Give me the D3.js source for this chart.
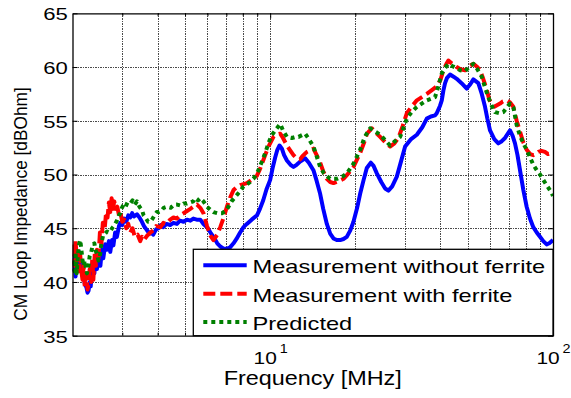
<!DOCTYPE html>
<html>
<head>
<meta charset="utf-8">
<script src="https://cdn.jsdelivr.net/npm/d3@7"></script>
<style>
  html, body { margin: 0; padding: 0; background: #fff; }
  svg { display: block; font-family: "Liberation Sans", Arial, Helvetica, sans-serif; }
</style>
</head>
<body>
<svg id="chart" width="571" height="398"></svg>
<script>
// CM loop impedance vs frequency: [frequency in MHz, impedance in dBOhm]
const withoutFerrite = [
  [2.01,41.0],[2.03,42.5],[2.05,40.5],[2.07,42.0],[2.09,41.0],[2.11,42.8],[2.13,41.2],[2.15,42.0],
  [2.17,40.6],[2.19,40.9],[2.21,39.8],[2.24,39.5],[2.26,39.0],[2.28,39.2],[2.30,40.0],[2.32,39.6],
  [2.34,40.8],[2.37,41.5],[2.39,40.8],[2.41,42.0],[2.44,41.2],[2.47,42.6],[2.51,41.5],[2.54,43.0],
  [2.57,42.2],[2.61,43.5],[2.65,43.0],[2.69,43.8],[2.72,42.8],[2.76,43.9],[2.79,43.4],[2.83,44.6],
  [2.87,44.2],[2.92,45.2],[2.95,45.5],[3.00,45.3],[3.05,45.9],[3.10,45.6],[3.15,46.2],[3.20,46.0],
  [3.25,46.4],[3.30,46.1],[3.38,46.3],[3.45,46.0],[3.52,45.6],[3.58,45.2],[3.67,44.8],[3.75,44.5],
  [3.82,44.6],[3.86,44.4],[3.95,44.9],[4.03,45.0],[4.10,45.3],[4.19,45.1],[4.30,45.4],[4.43,45.3],
  [4.55,45.5],[4.68,45.4],[4.80,45.7],[4.94,45.6],[5.08,45.8],[5.22,45.7],[5.35,45.9],[5.50,45.8],
  [5.66,45.8],[5.81,45.4],[5.98,45.1],[6.15,44.6],[6.30,44.2],[6.50,43.6],[6.66,43.3],[6.85,43.1],
  [7.03,43.1],[7.20,43.2],[7.42,43.6],[7.60,44.0],[7.83,44.6],[8.05,45.1],[8.27,45.4],[8.60,45.8],
  [8.98,46.2],[9.20,46.8],[9.45,47.6],[9.70,48.6],[10.0,49.5],[10.2,50.6],[10.42,51.6],[10.6,52.3],
  [10.79,52.7],[11.0,52.4],[11.2,51.8],[11.46,51.3],[11.8,50.9],[12.09,50.7],[12.4,50.9],[12.76,51.2],
  [13.3,51.5],[13.7,51.1],[14.22,50.4],[14.6,49.4],[15.02,48.2],[15.4,46.8],[15.86,45.4],[16.3,44.5],
  [16.74,44.05],[17.2,43.9],[17.68,43.9],[18.16,44.0],[18.66,44.2],[19.2,44.8],[19.7,45.6],[20.3,46.9],
  [20.8,48.2],[21.4,49.5],[21.96,50.6],[22.69,51.1],[23.2,50.8],[23.83,50.1],[24.7,49.3],[25.5,48.7],
  [26.18,48.5],[27.0,48.9],[28.04,49.8],[29.0,51.2],[30.0,52.6],[31.5,53.3],[33.0,53.7],[34.5,54.4],
  [35.79,55.2],[37.0,55.4],[38.28,55.5],[38.8,55.7],[39.87,56.4],[40.43,56.9],[40.96,57.8],[41.53,58.5],
  [42.2,59.0],[43.25,59.3],[44.5,59.1],[45.66,58.9],[47.5,58.5],[49.55,58.0],[51.0,58.4],[52.29,58.85],
  [54.45,58.5],[56.0,57.5],[57.5,56.3],[58.6,55.2],[59.89,54.1],[62.0,53.3],[64.08,52.9],[65.9,53.1],
  [67.67,53.4],[70.47,54.1],[72.0,53.6],[73.39,52.9],[74.9,51.8],[76.44,50.4],[78.5,48.6],[80.7,47.0],
  [82.9,45.9],[85.19,45.1],[87.6,44.6],[89.96,44.2],[92.4,43.8],[94.99,43.5],[97.0,43.6],[100,43.9]
];

const withFerrite = [
  [2.01,43.5],[2.03,41.5],[2.05,44.0],[2.07,42.0],[2.09,43.2],[2.11,41.0],[2.13,42.5],[2.15,41.0],
  [2.17,40.2],[2.19,41.5],[2.21,39.6],[2.24,40.8],[2.26,39.3],[2.28,39.8],[2.30,41.2],[2.33,40.0],
  [2.35,42.3],[2.37,40.2],[2.40,42.8],[2.42,41.5],[2.44,43.0],[2.47,42.2],[2.50,44.6],[2.53,43.5],
  [2.56,45.5],[2.60,45.0],[2.63,46.5],[2.66,46.0],[2.69,47.4],[2.72,46.5],[2.75,47.8],[2.78,46.8],
  [2.81,47.5],[2.84,46.8],[2.88,47.0],[2.92,46.2],[2.95,46.5],[3.00,45.6],[3.05,45.8],[3.10,45.0],
  [3.15,45.4],[3.20,44.6],[3.26,45.0],[3.32,44.2],[3.40,44.4],[3.47,43.8],[3.52,44.2],[3.58,43.9],
  [3.67,44.3],[3.77,44.6],[3.86,44.8],[3.95,45.2],[4.09,45.1],[4.19,45.5],[4.30,45.4],[4.43,45.8],
  [4.55,46.0],[4.68,45.9],[4.80,46.2],[4.94,46.4],[5.08,46.6],[5.22,46.8],[5.35,47.0],[5.51,47.2],
  [5.66,46.9],[5.81,46.4],[5.98,45.2],[6.15,44.3],[6.30,43.9],[6.50,44.4],[6.66,45.1],[6.85,46.0],
  [7.03,47.0],[7.23,47.9],[7.42,48.55],[7.60,48.8],[7.83,49.0],[8.05,49.1],[8.27,49.2],[8.60,49.5],
  [8.98,49.9],[9.20,50.5],[9.35,51.0],[9.6,51.8],[9.86,52.6],[10.27,53.5],[10.5,53.7],[10.85,53.8],
  [11.1,53.4],[11.46,52.7],[11.8,52.2],[12.09,51.8],[12.4,51.5],[12.76,51.4],[13.0,51.7],[13.48,52.1],
  [14.22,52.4],[14.6,51.8],[15.02,51.1],[15.4,50.3],[15.86,49.6],[16.3,49.3],[16.74,49.2],[17.5,49.4],
  [18.16,49.6],[18.9,50.1],[19.7,50.7],[20.8,52.0],[21.5,53.0],[22.0,53.8],[22.88,54.3],[23.6,53.9],
  [24.48,53.5],[25.5,53.0],[26.55,52.6],[27.5,52.9],[28.41,53.4],[29.4,54.5],[30.41,55.7],[31.6,56.3],
  [33.0,56.9],[35.79,57.5],[37.5,57.9],[38.81,58.2],[40.0,58.8],[40.96,59.7],[42.0,60.3],[42.66,60.6],
  [44.0,60.3],[45.66,60.0],[47.0,59.8],[48.87,59.7],[50.5,60.1],[52.29,60.3],[54.0,60.0],[55.21,59.7],
  [56.5,59.0],[58.3,57.9],[59.5,57.0],[60.73,56.5],[62.0,56.3],[64.97,56.6],[66.5,56.8],[68.62,56.9],
  [70.5,56.7],[72.38,56.3],[74.4,55.0],[76.44,54.0],[78.5,53.0],[80.7,52.3],[83.0,51.9],[85.19,51.8],
  [87.0,51.9],[88.73,52.1],[91.0,52.2],[93.69,52.1],[96.0,51.9],[98.95,52.0],[100,52.0]
];

const predicted = [
  [2.01,42.0],[2.03,41.0],[2.05,42.8],[2.07,40.8],[2.09,42.5],[2.11,43.5],[2.13,43.9],[2.15,43.0],
  [2.17,42.0],[2.19,41.5],[2.21,42.0],[2.24,41.0],[2.25,40.8],[2.28,41.6],[2.30,42.4],[2.33,42.8],
  [2.36,43.5],[2.39,43.6],[2.41,43.0],[2.44,42.6],[2.47,42.0],[2.50,42.4],[2.53,43.6],[2.57,44.4],
  [2.61,44.5],[2.65,44.7],[2.69,44.6],[2.72,44.7],[2.76,45.0],[2.80,45.2],[2.83,45.4],[2.87,45.7],
  [2.92,46.2],[2.95,46.4],[2.99,46.9],[3.03,47.2],[3.08,47.0],[3.13,47.4],[3.20,47.3],[3.26,47.6],
  [3.32,47.2],[3.38,47.5],[3.45,47.0],[3.52,46.7],[3.57,46.2],[3.64,45.9],[3.70,45.6],[3.77,45.6],
  [3.84,45.9],[3.90,46.2],[3.97,46.5],[4.03,46.5],[4.12,46.6],[4.20,46.9],[4.32,47.0],[4.45,46.9],
  [4.58,47.2],[4.68,47.2],[4.83,47.1],[4.94,47.3],[5.08,47.3],[5.22,47.4],[5.35,47.5],[5.43,47.8],
  [5.56,47.6],[5.66,47.8],[5.81,47.5],[5.98,47.0],[6.15,46.7],[6.30,46.5],[6.50,46.4],[6.75,46.4],
  [6.95,46.6],[7.12,47.0],[7.30,47.5],[7.52,47.9],[7.80,48.4],[8.05,48.9],[8.40,49.2],[8.73,49.6],
  [9.05,50.3],[9.35,51.2],[9.60,52.0],[9.86,52.9],[10.1,53.6],[10.42,54.1],[10.85,54.7],[11.1,54.1],
  [11.46,53.5],[11.93,53.4],[12.3,53.5],[12.59,53.5],[13.3,53.8],[13.7,53.3],[14.22,52.6],[14.6,51.7],
  [15.02,50.7],[15.5,50.1],[16.29,49.6],[17.21,49.6],[18.0,49.8],[18.66,50.1],[19.7,51.0],[20.8,52.3],
  [21.6,53.5],[22.56,54.3],[23.5,54.0],[24.48,53.7],[25.5,53.2],[26.55,52.7],[27.6,53.1],[28.8,53.5],
  [30.41,55.2],[31.6,55.8],[33.0,56.3],[35.79,56.9],[38.28,57.2],[39.3,58.2],[40.43,59.4],[41.5,59.9],
  [42.66,60.3],[44.0,60.1],[45.66,59.9],[47.0,59.7],[48.87,59.6],[50.5,60.0],[52.29,60.3],[54.0,59.8],
  [55.98,59.1],[57.5,58.1],[59.06,57.2],[60.7,56.4],[62.39,55.8],[64.5,55.7],[66.74,55.8],[68.5,56.2],
  [70.47,56.6],[72.5,56.2],[74.41,54.6],[76.44,53.6],[78.52,52.9],[80.7,52.3],[82.93,51.6],[85.19,50.9],
  [87.58,50.4],[90.0,50.0],[92.4,49.5],[95.0,49.0],[98.95,48.3],[100,48.0]
];

const seriesNames = ["Measurement without ferrite", "Measurement with ferrite", "Predicted"];
const yTickValues = [35, 40, 45, 50, 55, 60, 65];
const xMajorTicks = [10, 100];
const xMajorExponents = ["1", "2"];
const xMinorTicks = [3, 4, 5, 6, 7, 8, 9, 20, 30, 40, 50, 60, 70, 80, 90];
const xLabel = "Frequency [MHz]";
const yLabel = "CM Loop Impedance [dBOhm]";

// ---- layout and scales ----
const svg = d3.select("#chart");
const box = { left: 72.5, right: 553, top: 13.3, bottom: 335.7 };
const x = d3.scaleLog().domain([2, 100]).range([box.left, box.right]);
const y = d3.scaleLinear().domain([35, 65]).range([box.bottom, box.top]);

const styles = [
  { color: "#0000ff", dash: null },
  { color: "#ff0000", dash: "12,5" },
  { color: "#008000", dash: "4,4" }
];
const allSeries = [withoutFerrite, withFerrite, predicted];

// ---- grid ----
const grid = svg.append("g")
  .attr("stroke", "#4a4a4a")
  .attr("stroke-width", 1)
  .attr("stroke-dasharray", "1.5,1")
  .attr("shape-rendering", "crispEdges");
grid.selectAll(".gx").data(xMinorTicks.concat(xMajorTicks.slice(0, 1)))
  .join("line")
  .attr("x1", d => Math.round(x(d)) + 0.5).attr("x2", d => Math.round(x(d)) + 0.5)
  .attr("y1", box.top).attr("y2", box.bottom);
grid.selectAll(".gy").data(yTickValues.slice(1, -1))
  .join("line")
  .attr("x1", box.left).attr("x2", box.right)
  .attr("y1", d => Math.round(y(d)) + 0.5).attr("y2", d => Math.round(y(d)) + 0.5);

// ---- curves ----
svg.append("clipPath").attr("id", "plotClip")
  .append("rect")
  .attr("x", box.left).attr("y", box.top)
  .attr("width", box.right - box.left).attr("height", box.bottom - box.top);

const line = d3.line().x(d => x(d[0])).y(d => y(d[1]));
const curves = svg.append("g").attr("clip-path", "url(#plotClip)");
allSeries.forEach((data, i) => {
  curves.append("path")
    .datum(data)
    .attr("d", line)
    .attr("fill", "none")
    .attr("stroke", styles[i].color)
    .attr("stroke-width", 4)
    .attr("stroke-linejoin", "round")
    .attr("stroke-dasharray", styles[i].dash);
});

// ---- axes (box with inward ticks) ----
function styleAxis(g) {
  g.selectAll("path.domain").attr("stroke", "#000").attr("stroke-width", 1.3);
  g.selectAll(".tick line").attr("stroke", "#000").attr("stroke-width", 1);
  g.selectAll(".tick text").remove();
}
svg.append("g").attr("transform", `translate(0,${box.bottom})`)
  .call(d3.axisBottom(x).tickValues(xMajorTicks).tickSizeInner(-5).tickSizeOuter(0).tickFormat(""))
  .call(styleAxis);
svg.append("g").attr("transform", `translate(0,${box.bottom})`)
  .call(d3.axisBottom(x).tickValues(xMinorTicks).tickSizeInner(-3).tickSizeOuter(0).tickFormat(""))
  .call(g => g.select("path.domain").remove()).call(styleAxis);
svg.append("g").attr("transform", `translate(0,${box.top})`)
  .call(d3.axisTop(x).tickValues(xMajorTicks).tickSizeInner(-5).tickSizeOuter(0).tickFormat(""))
  .call(styleAxis);
svg.append("g").attr("transform", `translate(0,${box.top})`)
  .call(d3.axisTop(x).tickValues(xMinorTicks).tickSizeInner(-3).tickSizeOuter(0).tickFormat(""))
  .call(g => g.select("path.domain").remove()).call(styleAxis);
svg.append("g").attr("transform", `translate(${box.left},0)`)
  .call(d3.axisLeft(y).tickValues(yTickValues).tickSizeInner(-5).tickSizeOuter(0).tickFormat(""))
  .call(styleAxis);
svg.append("g").attr("transform", `translate(${box.right},0)`)
  .call(d3.axisRight(y).tickValues(yTickValues).tickSizeInner(-5).tickSizeOuter(0).tickFormat(""))
  .call(styleAxis);

// ---- text helper: horizontally widened Helvetica-like lettering ----
function addText(str, px, py, size, sx, anchor) {
  return svg.append("text")
    .attr("transform", `translate(${px},${py}) scale(${sx},1)`)
    .attr("text-anchor", anchor)
    .attr("font-size", size)
    .attr("fill", "#000")
    .text(str);
}

// y tick labels
yTickValues.forEach(v => addText(String(v), box.left - 4.8, y(v) + 6.8, 17, 1.3, "end"));

// x tick labels: 10^n
xMajorTicks.forEach((v, i) => {
  addText("10", x(v) - 5, 363.6, 17, 1.23, "middle");
  addText(xMajorExponents[i], x(v) + 9.5, 353, 12, 1.2, "start");
});

// axis titles
addText(xLabel, (box.left + box.right) / 2, 385, 19.5, 1.2, "middle");
svg.append("text")
  .attr("transform", "translate(26.7,204) rotate(-90) scale(1,1.08)")
  .attr("text-anchor", "middle")
  .attr("font-size", 17.3)
  .attr("fill", "#000")
  .text(yLabel);

// ---- legend ----
const legend = { left: 193.3, top: 249.3, right: box.right, bottom: box.bottom };
svg.append("rect")
  .attr("x", legend.left).attr("y", legend.top)
  .attr("width", legend.right - legend.left).attr("height", legend.bottom - legend.top)
  .attr("fill", "#fff").attr("stroke", "#000").attr("stroke-width", 1.3);

seriesNames.forEach((name, i) => {
  const base = 273.3 + i * 28.35;
  svg.append("line")
    .attr("x1", 203.3).attr("x2", 246.7)
    .attr("y1", base - 8).attr("y2", base - 8)
    .attr("stroke", styles[i].color)
    .attr("stroke-width", 4)
    .attr("stroke-dasharray", styles[i].dash);
  addText(name, 252.5, base, 18.6, 1.27, "start");
});
</script>
</body>
</html>
